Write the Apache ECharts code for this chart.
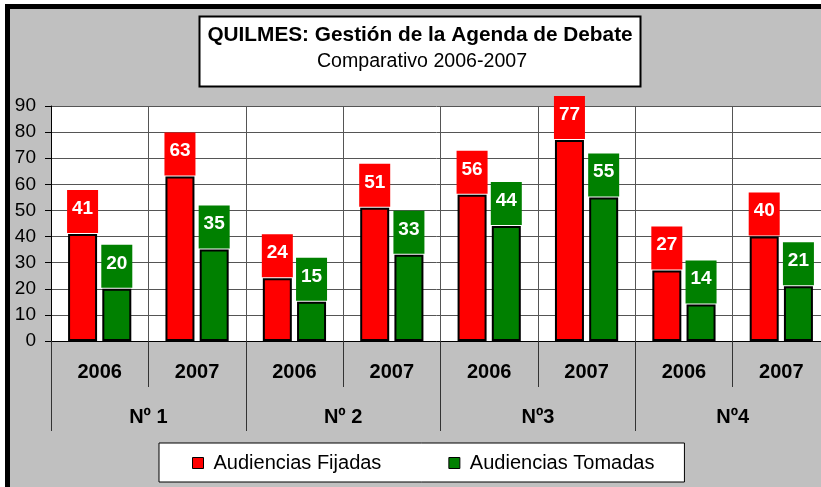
<!DOCTYPE html>
<html><head><meta charset="utf-8">
<script src="https://cdn.jsdelivr.net/npm/echarts@6/dist/echarts.min.js"></script>
<style>html,body{margin:0;padding:0;background:#fff}#c{width:821px;height:487px}</style>
</head><body><div id="c"></div>
<script>
const years = ['2006','2007','2006','2007','2006','2007','2006','2007'];
const groups = ['Nº 1','Nº 2','Nº3','Nº4'];
const seriesNames = ['Audiencias Fijadas','Audiencias Tomadas'];
const fijadas = [41,63,24,51,56,77,27,40];
const tomadas = [20,35,15,33,44,55,14,21];
const yMin = 0, yMax = 90, yStep = 10;
const titleMain = 'QUILMES: Gestión de la Agenda de Debate';
const titleSub = 'Comparativo 2006-2007';
const colors = ['#ff0000', '#008000'];

function barLabel(color){
  return {show:true, position:'top', distance:1, color:'#fff', fontWeight:'bold', fontSize:19,
    fontFamily:'Arial', backgroundColor:color, width:31, height:37, lineHeight:37,
    padding:[0,0,6,0], align:'center'};
}
const chart = echarts.init(document.getElementById('c'), null, {renderer:'canvas'});
chart.setOption({
  animation:false,
  backgroundColor:'#fff',
  textStyle:{fontFamily:'Arial'},
  graphic:[
    {type:'rect', z:-100, shape:{x:7.5, y:6.5, width:900, height:600}, style:{fill:'#c0c0c0', stroke:'#000', lineWidth:5}},
    {type:'rect', z:10, shape:{x:199.5, y:16.5, width:441, height:70}, style:{fill:'#fff', stroke:'#000', lineWidth:2}},
    {type:'text', z:11, style:{text:titleMain, x:420, y:35, textAlign:'center', textVerticalAlign:'middle', font:'bold 20.8px Arial', fill:'#000'}},
    {type:'text', z:11, style:{text:titleSub, x:422, y:62, textAlign:'center', textVerticalAlign:'middle', font:'19.6px Arial', fill:'#000'}}
  ],
  legend:{left:159, top:443, padding:[10,30,9,33], itemGap:67, itemWidth:11, itemHeight:11, icon:'rect',
    backgroundColor:'#fff', borderColor:'#000', borderWidth:1,
    textStyle:{fontSize:20, color:'#000', padding:[0,0,0,5]},
    itemStyle:{borderColor:'#000', borderWidth:1},
    data:seriesNames},
  grid:{left:51, top:106, width:779, height:235, show:true, backgroundColor:'#fff', borderWidth:0, containLabel:false, outerBoundsMode:'none'},
  xAxis:[
    {type:'category', data:years, position:'bottom',
     axisLine:{show:true, lineStyle:{color:'#000', width:1}},
     axisTick:{show:true, interval:0, length:46, lineStyle:{color:'#333'}},
     axisLabel:{interval:0, margin:21, fontSize:20, fontWeight:'bold', color:'#000'},
     splitLine:{show:true, interval:0, lineStyle:{color:'#555'}}},
    {type:'category', data:groups, position:'bottom',
     axisLine:{show:false},
     axisTick:{show:true, interval:0, length:90, lineStyle:{color:'#333'}},
     axisLabel:{interval:0, margin:66, fontSize:20, fontWeight:'bold', color:'#000'},
     splitLine:{show:false}}
  ],
  yAxis:{type:'value', min:yMin, max:yMax, interval:yStep,
    axisLine:{show:true, lineStyle:{color:'#000'}},
    axisTick:{show:true, length:6, lineStyle:{color:'#000'}},
    axisLabel:{margin:15, fontSize:19, color:'#000'},
    splitLine:{show:true, lineStyle:{color:'#555'}}},
  series:[
    {name:seriesNames[0], type:'bar', xAxisIndex:0, data:fijadas, barWidth:29, barGap:'18%',
     itemStyle:{color:colors[0], borderColor:'#000', borderWidth:2}, label:barLabel(colors[0])},
    {name:seriesNames[1], type:'bar', xAxisIndex:0, data:tomadas, barWidth:29, barGap:'18%',
     itemStyle:{color:colors[1], borderColor:'#000', borderWidth:2}, label:barLabel(colors[1])}
  ]
});
</script></body></html>
